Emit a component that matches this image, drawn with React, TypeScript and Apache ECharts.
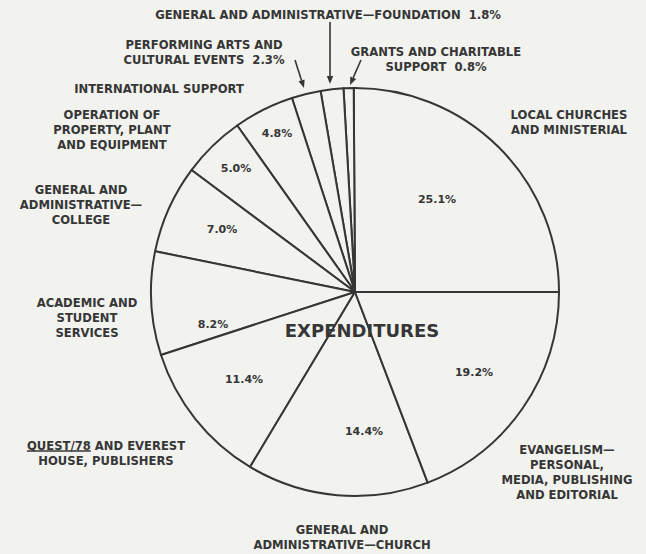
import React, { useEffect, useRef } from "react";
import * as echarts from "echarts";

// ---- data ----
const categories = [
  "LOCAL CHURCHES\nAND MINISTERIAL",
  "GRANTS AND CHARITABLE\nSUPPORT",
  "GENERAL AND ADMINISTRATIVE—FOUNDATION",
  "PERFORMING ARTS AND\nCULTURAL EVENTS",
  "INTERNATIONAL SUPPORT",
  "OPERATION OF\nPROPERTY, PLANT\nAND EQUIPMENT",
  "GENERAL AND\nADMINISTRATIVE—\nCOLLEGE",
  "ACADEMIC AND\nSTUDENT\nSERVICES",
  "QUEST/78 AND EVEREST\nHOUSE, PUBLISHERS",
  "GENERAL AND\nADMINISTRATIVE—CHURCH",
  "EVANGELISM—\nPERSONAL,\nMEDIA, PUBLISHING\nAND EDITORIAL",
];
const values = [25.1, 0.8, 1.8, 2.3, 4.8, 5.0, 7.0, 8.2, 11.4, 14.4, 19.2];
const centerTitle = "EXPENDITURES";
const underlinedWord = "QUEST/78";

// ---- layout (positions only) ----
const INK = "#363636";
const BG = "#f2f2ef";
const pctPos: ([number, number] | null)[] = [
  [437, 199], null, null, null, [277, 133], [236, 168], [222, 229],
  [213, 324], [244, 379], [364, 431], [474, 372],
];
const catPos: [number, number][] = [
  [569, 113], [436, 50], [328, 13], [204, 43], [159, 87], [112, 113],
  [81, 188], [87, 301], [106, 444], [342, 528], [567, 448],
];
const pctInName = [false, true, true, true, false, false, false, false, false, false, false];

const fmt = (v: number) => `${v.toFixed(1)}%`;
const FONT = "'DejaVu Sans', 'Liberation Sans', sans-serif";
const LABEL_FONT = `bold 11.6px ${FONT}`;

function arrow(x1: number, y1: number, x2: number, y2: number) {
  const a = Math.atan2(y2 - y1, x2 - x1);
  const L = 8, W = 3.2;
  const bx = x2 - L * Math.cos(a), by = y2 - L * Math.sin(a);
  const px = -Math.sin(a) * W, py = Math.cos(a) * W;
  return [
    { type: "line", z: 100, shape: { x1, y1, x2: bx, y2: by }, style: { stroke: INK, lineWidth: 1.6 } },
    {
      type: "polygon",
      z: 100,
      shape: { points: [[x2, y2], [bx + px, by + py], [bx - px, by - py]] },
      style: { fill: INK },
    },
  ];
}

function measure(text: string, font: string) {
  const c = document.createElement("canvas").getContext("2d");
  if (!c) return text.length * 8;
  c.font = font;
  return c.measureText(text).width;
}

export default function App() {
  const ref = useRef<HTMLDivElement>(null);
  useEffect(() => {
    if (!ref.current) return;
    const chart = echarts.init(ref.current, null, { renderer: "svg" });
    const graphics: any[] = [];

    categories.forEach((c, i) => {
      let text = c;
      if (pctInName[i]) text = c + "  " + fmt(values[i]);
      const [x, y] = catPos[i];
      graphics.push({
        type: "text",
        z: 100,
        x,
        y: y - 6,
        style: {
          text,
          fill: INK,
          font: LABEL_FONT,
          align: "center",
          verticalAlign: "top",
          lineHeight: 15,
        },
      });
      const firstLine = text.split("\n")[0];
      if (firstLine.startsWith(underlinedWord)) {
        const full = measure(firstLine, LABEL_FONT);
        const w = measure(underlinedWord, LABEL_FONT);
        const x1 = x - full / 2;
        graphics.push({
          type: "line",
          z: 100,
          shape: { x1, y1: y + 7, x2: x1 + w, y2: y + 7 },
          style: { stroke: INK, lineWidth: 1.3 },
        });
      }
    });
    values.forEach((v, i) => {
      const p = pctPos[i];
      if (!p) return;
      graphics.push({
        type: "text",
        z: 100,
        x: p[0],
        y: p[1],
        style: {
          text: fmt(v),
          fill: INK,
          font: `bold 11px ${FONT}`,
          align: "center",
          verticalAlign: "middle",
        },
      });
    });
    graphics.push({
      type: "text",
      z: 100,
      x: 362,
      y: 330,
      style: {
        text: centerTitle,
        fill: INK,
        font: `bold 18px ${FONT}`,
        align: "center",
        verticalAlign: "middle",
      },
    });
    graphics.push(...arrow(330, 22, 330, 84));
    graphics.push(...arrow(295, 60, 304, 88));
    graphics.push(...arrow(361, 60, 350, 85));

    chart.setOption({
      animation: false,
      backgroundColor: BG,
      series: [
        {
          type: "pie",
          z: 2,
          center: [355, 292],
          radius: [0, 204],
          startAngle: 0,
          clockwise: false,
          avoidLabelOverlap: false,
          label: { show: false },
          labelLine: { show: false },
          emphasis: { disabled: true },
          itemStyle: { color: BG, borderColor: INK, borderWidth: 2 },
          data: values.map((v, i) => ({ name: categories[i], value: v })),
        },
      ],
      graphic: { elements: graphics },
    });
    return () => chart.dispose();
  }, []);
  return (
    <div
      ref={ref}
      style={{ position: "absolute", left: 0, top: 0, width: 646, height: 554 }}
    />
  );
}
